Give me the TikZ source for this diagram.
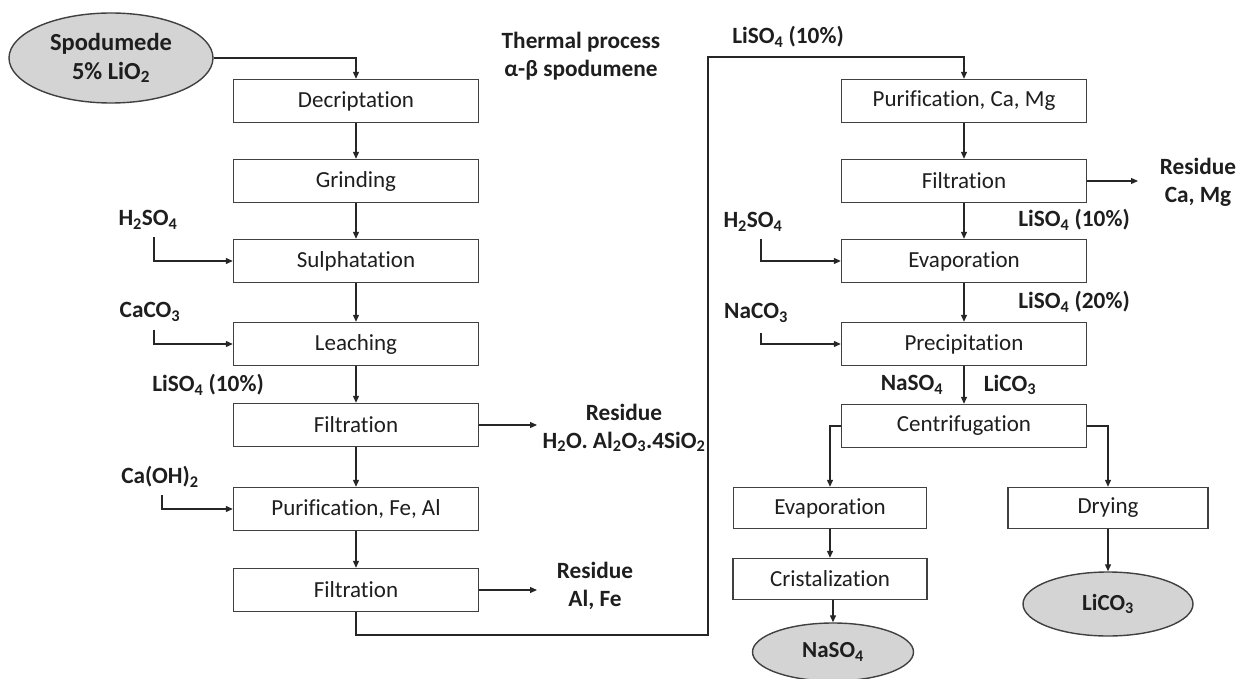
\documentclass[tikz,border=0pt]{standalone}
\usepackage{fontspec}
\setmainfont{Carlito}[Ligatures={NoCommon,NoRare}]
\usetikzlibrary{arrows.meta,shapes.geometric}
\definecolor{edge}{HTML}{404040}
\definecolor{txt}{HTML}{1E1E1E}
\definecolor{oval}{HTML}{D4D4D4}
\tikzset{
  stepbox/.style={draw=edge,line width=1.4pt,fill=white,minimum width=245pt,minimum height=43pt,inner sep=0pt,text=txt,font=\fontsize{23}{27}\selectfont},
  ovalnode/.style={ellipse,draw=edge,line width=1.4pt,fill=oval,inner sep=0pt,text=txt,align=center,font=\bfseries\fontsize{23}{28}\selectfont},
  lbl/.style={text=txt,align=center,inner sep=0pt,font=\bfseries\fontsize{23.3}{28}\selectfont},
  arr/.style={draw=black!85,line width=1.2pt,-{Triangle[length=7pt,width=6pt]}},
  ln/.style={draw=black!85,line width=1.2pt}
}
\begin{document}
\begin{tikzpicture}[x=1pt,y=-1pt]
\useasboundingbox (0,0) rectangle (1247,679);
% ellipses
\node[ovalnode,minimum width=204pt,minimum height=90pt,font=\bfseries\fontsize{24.5}{29}\selectfont] (sp) at (111,58) {Spodumede\\5\% LiO\textsubscript{2}};
\node[ovalnode,minimum width=161pt,minimum height=58pt] (nas) at (833,652) {NaSO\textsubscript{4}};
\node[ovalnode,minimum width=170pt,minimum height=64pt] (lic) at (1108,604) {LiCO\textsubscript{3}};
% left column
\node[stepbox] (dec) at (356,101) {Decriptation};
\node[stepbox] (gri) at (356,181) {Grinding};
\node[stepbox] (sul) at (356,261) {Sulphatation};
\node[stepbox] (lea) at (356,344) {Leaching};
\node[stepbox] (fi1) at (356,425) {Filtration};
\node[stepbox] (pu1) at (356,509) {Purification, Fe, Al};
\node[stepbox] (fi2) at (356,590) {Filtration};
% right column
\node[stepbox] (pu2) at (964,101) {Purification, Ca, Mg};
\node[stepbox] (fi3) at (964,181) {Filtration};
\node[stepbox] (ev1) at (964,261) {Evaporation};
\node[stepbox] (pre) at (964,344) {Precipitation};
\node[stepbox] (cen) at (964,426) {Centrifugation};
\node[stepbox,minimum width=193pt,minimum height=41pt] (ev2) at (830,508) {Evaporation};
\node[stepbox,minimum width=194pt,minimum height=41pt] (cri) at (830,579) {Cristalization};
\node[stepbox,minimum width=200pt,minimum height=41pt] (dry) at (1108,508) {Drying};
% labels
\node[lbl] (thp) at (581,56) {Thermal process\\α-β spodumene};
\node[lbl] (lt) at (788,37) {LiSO\textsubscript{4} (10\%)};
\node[lbl] (h1) at (148,220) {H\textsubscript{2}SO\textsubscript{4}};
\node[lbl] (ca1) at (150,312) {CaCO\textsubscript{3}};
\node[lbl] (ls1) at (208,385) {LiSO\textsubscript{4} (10\%)};
\node[lbl] (coh) at (160,477) {Ca(OH)\textsubscript{2}};
\node[lbl] (r1) at (624,428) {Residue\\H\textsubscript{2}O. Al\textsubscript{2}O\textsubscript{3}.4SiO\textsubscript{2}};
\node[lbl] (r2) at (595,586) {Residue\\Al, Fe};
\node[lbl] (r3) at (1198,182) {Residue\\Ca, Mg};
\node[lbl] (ls2) at (1074,220) {LiSO\textsubscript{4} (10\%)};
\node[lbl] (ls3) at (1074,302) {LiSO\textsubscript{4} (20\%)};
\node[lbl] (h2) at (753,222) {H\textsubscript{2}SO\textsubscript{4}};
\node[lbl] (nac) at (756,313) {NaCO\textsubscript{3}};
\node[lbl] (nal) at (912,385) {NaSO\textsubscript{4}};
\node[lbl] (lil) at (1010,385) {LiCO\textsubscript{3}};
% coordinates
\coordinate (c1) at (154,237);
\coordinate (c2) at (154,330);
\coordinate (c3) at (162,495);
\coordinate (e1) at (537,425);
\coordinate (e2) at (537,590);
\coordinate (e3) at (1138,181);
\coordinate (c4) at (761,239);
\coordinate (c5) at (761,333);
\coordinate (b1) at (708,635);
\coordinate (b2) at (708,57);
% connectors
\draw[arr] (sp.east) -| (dec.north);
\draw[arr] (dec) -- (gri);
\draw[arr] (gri) -- (sul);
\draw[arr] (sul) -- (lea);
\draw[arr] (lea) -- (fi1);
\draw[arr] (fi1) -- (pu1);
\draw[arr] (pu1) -- (fi2);
\draw[arr] (c1) |- (sul.west);
\draw[arr] (c2) |- (lea.west);
\draw[arr] (c3) |- (pu1.west);
\draw[arr] (fi1.east) -- (e1);
\draw[arr] (fi2.east) -- (e2);
\draw[arr] (fi2.south) |- (b1) -- (b2) -| (pu2.north);
\draw[arr] (pu2) -- (fi3);
\draw[arr] (fi3) -- (ev1);
\draw[arr] (ev1) -- (pre);
\draw[arr] (pre) -- (cen);
\draw[arr] (fi3.east) -- (e3);
\draw[arr] (c4) |- (ev1.west);
\draw[arr] (c5) |- (pre.west);
\draw[arr] (cen.west) -| (ev2.north);
\draw[arr] (cen.east) -| (dry.north);
\draw[arr] (ev2) -- (cri);
\draw[arr] (cri.south -| nas.north) -- (nas.north);
\draw[arr] (dry.south) -- (lic.north);
\end{tikzpicture}
\end{document}
